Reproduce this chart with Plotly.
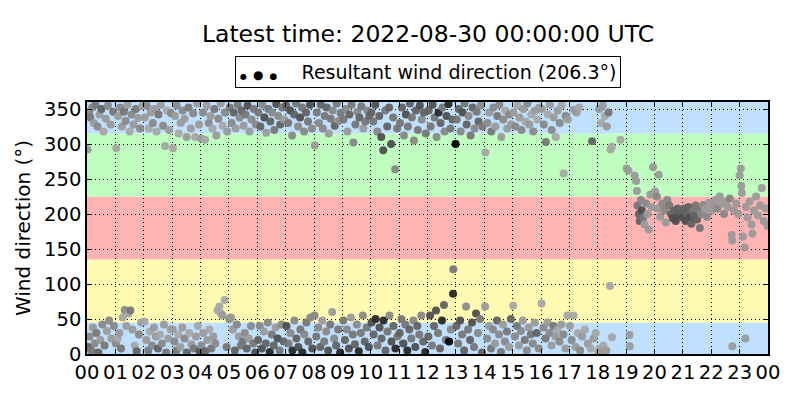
import plotly.graph_objects as go

# hora del dia (h decimal), direccion del viento (grados) y tono de gris (1 claro .. 9 oscuro)
hour = [
    0.02, 0.07, 0.12, 0.18, 0.24, 0.30, 0.37, 0.44, 0.51, 0.58, 0.66, 0.74, 0.83, 0.92, 0.04, 0.09, 0.15, 0.21, 0.27, 0.33, 0.40, 0.47, 0.54, 0.62, 0.70, 0.78, 0.86, 0.95,
    1.03, 1.10, 1.17, 1.23, 1.30, 1.36, 1.43, 1.50, 1.57, 1.64, 1.72, 1.80, 1.87, 1.94, 1.02, 1.08, 1.14, 1.20, 1.26, 1.33, 1.39, 1.46, 1.53, 1.60, 1.68, 1.75, 1.83, 1.91,
    2.04, 2.11, 2.18, 2.25, 2.32, 2.38, 2.45, 2.52, 2.60, 2.68, 2.75, 2.82, 2.89, 2.96, 2.03, 2.09, 2.16, 2.22, 2.29, 2.36, 2.43, 2.50, 2.57, 2.64, 2.71, 2.79, 2.86, 2.94,
    3.03, 3.10, 3.16, 3.23, 3.30, 3.37, 3.44, 3.51, 3.58, 3.66, 3.74, 3.81, 3.88, 3.95, 3.02, 3.08, 3.15, 3.22, 3.29, 3.36, 3.44, 3.52, 3.60, 3.68, 3.76, 3.84, 3.91, 3.97,
    4.02, 4.09, 4.16, 4.22, 4.29, 4.35, 4.42, 4.49, 4.56, 4.63, 4.71, 4.78, 4.86, 4.94, 4.03, 4.10, 4.17, 4.24, 4.31, 4.38, 4.45, 4.52, 4.60, 4.67, 4.72, 4.78, 4.85, 4.92,
    5.03, 5.10, 5.17, 5.24, 5.31, 5.38, 5.45, 5.52, 5.59, 5.66, 5.73, 5.80, 5.88, 5.95, 5.02, 5.08, 5.14, 5.21, 5.28, 5.35, 5.42, 5.49, 5.56, 5.63, 5.70, 5.78, 5.86, 5.93,
    6.04, 6.11, 6.18, 6.25, 6.32, 6.39, 6.46, 6.53, 6.60, 6.67, 6.74, 6.81, 6.88, 6.95, 6.03, 6.09, 6.16, 6.23, 6.30, 6.37, 6.44, 6.51, 6.58, 6.65, 6.72, 6.79, 6.86, 6.93,
    7.02, 7.09, 7.16, 7.23, 7.30, 7.37, 7.44, 7.51, 7.58, 7.65, 7.72, 7.79, 7.86, 7.93, 7.03, 7.10, 7.17, 7.24, 7.31, 7.38, 7.45, 7.52, 7.59, 7.66, 7.73, 7.80, 7.87, 7.94,
    8.03, 8.10, 8.17, 8.24, 8.31, 8.38, 8.45, 8.52, 8.59, 8.66, 8.73, 8.80, 8.87, 8.94, 8.02, 8.08, 8.15, 8.22, 8.29, 8.36, 8.43, 8.50, 8.57, 8.64, 8.71, 8.78, 8.85, 8.92,
    9.04, 9.11, 9.18, 9.25, 9.32, 9.39, 9.46, 9.53, 9.60, 9.67, 9.74, 9.81, 9.88, 9.95, 9.03, 9.09, 9.16, 9.23, 9.30, 9.37, 9.44, 9.51, 9.58, 9.65, 9.72, 9.79, 9.86, 9.93,
    10.02, 10.09, 10.16, 10.23, 10.30, 10.37, 10.44, 10.51, 10.58, 10.65, 10.72, 10.79, 10.86, 10.93, 10.03, 10.10, 10.17, 10.24, 10.31, 10.38, 10.45, 10.52, 10.59, 10.66, 10.73, 10.80, 10.87, 10.94,
    11.03, 11.10, 11.17, 11.24, 11.31, 11.38, 11.45, 11.52, 11.59, 11.66, 11.73, 11.80, 11.87, 11.94, 11.02, 11.08, 11.15, 11.22, 11.29, 11.36, 11.43, 11.50, 11.57, 11.64, 11.71, 11.78, 11.85, 11.92,
    12.04, 12.11, 12.18, 12.25, 12.32, 12.39, 12.46, 12.53, 12.60, 12.67, 12.74, 12.81, 12.88, 12.99, 12.03, 12.09, 12.16, 12.23, 12.30, 12.37, 12.44, 12.51, 12.58, 12.65, 12.76, 12.82, 12.90, 12.91,
    13.03, 13.10, 13.17, 13.24, 13.31, 13.38, 13.45, 13.52, 13.59, 13.66, 13.73, 13.80, 13.87, 13.94, 13.02, 13.08, 13.15, 13.22, 13.29, 13.36, 13.43, 13.50, 13.57, 13.64, 13.71, 13.78, 13.85, 13.92,
    14.04, 14.11, 14.18, 14.25, 14.32, 14.39, 14.46, 14.53, 14.60, 14.67, 14.74, 14.81, 14.88, 14.95, 14.03, 14.10, 14.17, 14.24, 14.31, 14.38, 14.45, 14.52, 14.59, 14.66, 14.73, 14.80, 14.87, 14.94,
    15.03, 15.10, 15.17, 15.24, 15.31, 15.38, 15.45, 15.52, 15.59, 15.66, 15.73, 15.80, 15.87, 15.94, 15.02, 15.08, 15.15, 15.22, 15.29, 15.36, 15.43, 15.50, 15.57, 15.64, 15.71, 15.78, 15.85, 15.92,
    16.03, 16.10, 16.17, 16.24, 16.31, 16.38, 16.45, 16.52, 16.59, 16.66, 16.73, 16.80, 16.87, 16.94, 16.02, 16.09, 16.16, 16.23, 16.30, 16.37, 16.44, 16.51, 16.58, 16.65, 16.72, 16.79, 16.86, 16.93,
    17.15, 17.25, 17.35, 17.80, 17.02, 17.08, 17.15, 17.22, 17.30, 17.38, 17.45, 17.55, 17.65, 17.75, 17.85, 17.93,
    18.05, 18.12, 18.18, 18.25, 18.32, 18.38, 18.45, 18.50, 18.80, 18.02, 18.06, 18.12, 18.20, 18.30, 18.43, 18.50,
    19.02, 19.08, 19.12, 19.13, 19.30, 19.35, 19.38, 19.40, 19.45, 19.48, 19.52, 19.55, 19.60, 19.65, 19.70, 19.75, 19.80, 19.85, 19.90, 19.95,
    20.02, 20.08, 20.15, 20.12, 20.20, 20.28, 20.35, 20.40, 20.45, 20.52, 20.58, 20.65, 20.70, 20.75, 20.82, 20.88, 20.95,
    21.00, 21.05, 21.10, 21.15, 21.20, 21.25, 21.30, 21.35, 21.40, 21.45, 21.50, 21.55, 21.60, 21.65, 21.72, 21.78, 21.85, 21.92,
    22.00, 22.08, 22.15, 22.22, 22.30, 22.38, 22.45, 22.52, 22.58, 22.65, 22.72, 22.74, 22.80, 22.88, 22.95, 22.74,
    23.00, 23.04, 23.06, 23.08, 23.20, 23.12, 23.18, 23.22, 23.28, 23.35, 23.42, 23.50, 23.58, 23.65, 23.72, 23.78, 23.85, 23.92, 23.98, 23.45,
]
direction = [
    292, 345, 338, 352, 330, 356, 325, 342, 350, 318, 336, 355, 328, 346, 10, 25, 5, 38, 15, 30, 2, 20, 42, 12, 33, 48, 22, 40,
    294, 340, 352, 325, 346, 333, 356, 318, 342, 328, 350, 337, 322, 354, 15, 22, 30, 8, 52, 63, 40, 58, 62, 35, 12, 4, 28, 45,
    338, 355, 322, 345, 330, 350, 318, 342, 356, 326, 297, 348, 320, 344, 46, 20, 5, 32, 12, 38, 25, 8, 28, 15, 42, 2, 22, 35,
    294, 340, 355, 315, 330, 348, 336, 310, 352, 322, 344, 310, 358, 328, 35, 18, 5, 28, 10, 38, 22, 2, 30, 14, 8, 25, 40, 4,
    308, 345, 306, 355, 330, 340, 322, 350, 312, 336, 358, 326, 345, 318, 12, 30, 4, 20, 35, 8, 25, 15, 62, 68, 58, 55, 77, 10,
    352, 330, 345, 322, 356, 338, 348, 326, 342, 355, 318, 335, 350, 328, 50, 52, 35, 5, 42, 25, 12, 18, 30, 8, 22, 40, 15, 2,
    345, 325, 356, 338, 316, 350, 332, 345, 320, 357, 340, 328, 352, 335, 20, 40, 8, 32, 15, 45, 3, 28, 12, 38, 22, 5, 42, 18,
    355, 330, 348, 312, 342, 358, 325, 338, 352, 318, 345, 332, 356, 322, 40, 15, 30, 5, 48, 22, 10, 35, 2, 28, 45, 18, 52, 8,
    298, 345, 330, 356, 322, 340, 352, 315, 336, 348, 326, 358, 333, 344, 55, 25, 38, 10, 48, 18, 32, 5, 42, 60, 22, 12, 35, 2,
    335, 350, 318, 342, 356, 302, 328, 346, 338, 354, 322, 332, 348, 340, 48, 20, 35, 8, 52, 28, 14, 42, 4, 30, 55, 18, 38, 10,
    345, 332, 356, 318, 340, 310, 291, 348, 325, 352, 300, 338, 264, 322, 45, 28, 50, 12, 38, 22, 48, 5, 32, 55, 18, 40, 8, 25,
    330, 352, 312, 342, 325, 358, 338, 305, 348, 320, 355, 335, 345, 315, 30, 50, 15, 42, 5, 35, 22, 48, 10, 40, 28, 55, 18, 3,
    348, 325, 356, 338, 310, 345, 330, 352, 318, 340, 357, 322, 335, 300, 25, 55, 12, 40, 62, 30, 8, 48, 70, 20, 18, 35, 86, 121,
    335, 350, 318, 345, 358, 328, 340, 312, 352, 322, 346, 332, 355, 325, 40, 15, 48, 28, 5, 68, 35, 20, 45, 10, 58, 30, 50, 2,
    288, 330, 345, 318, 352, 325, 340, 356, 310, 335, 348, 322, 342, 328, 68, 22, 40, 8, 35, 15, 48, 28, 3, 42, 18, 32, 10, 50,
    345, 325, 355, 338, 320, 350, 332, 358, 328, 342, 318, 348, 335, 352, 69, 25, 40, 12, 33, 48, 20, 5, 38, 28, 15, 45, 30, 8,
    350, 328, 303, 342, 356, 320, 338, 310, 348, 330, 355, 258, 340, 335, 72, 38, 22, 45, 30, 12, 40, 25, 35, 18, 42, 28, 8, 55,
    349, 345, 352, 304, 40, 20, 55, 10, 30, 5, 25, 35, 15, 8, 22, 30,
    350, 330, 355, 340, 325, 345, 292, 296, 306, 3, 8, 3, 12, 5, 97, 24,
    265, 262, 27, 11, 255, 247, 233, 212, 200, 190, 220, 205, 195, 185, 215, 200, 178, 228, 210, 267,
    232, 225, 256, 208, 196, 215, 205, 188, 220, 212, 200, 194, 205, 190, 208, 198, 202,
    195, 208, 190, 200, 210, 195, 186, 204, 198, 212, 192, 205, 180, 200, 213, 207, 196, 216,
    205, 212, 220, 208, 225, 215, 200, 218, 210, 222, 170, 162, 205, 215, 200, 11,
    255, 265, 240, 230, 22, 168, 152, 210, 195, 218, 185, 205, 225, 198, 212, 237, 190, 208, 183, 172,
]
shade = [
    3, 4, 5, 4, 3, 5, 4, 3, 6, 2, 3, 4, 3, 5, 6, 4, 5, 3, 4, 5, 6, 3, 4, 5, 3, 4, 3, 4,
    2, 3, 4, 3, 5, 4, 3, 2, 4, 3, 5, 3, 4, 3, 4, 2, 3, 5, 2, 4, 3, 2, 5, 3, 2, 6, 4, 3,
    3, 4, 2, 3, 4, 3, 2, 5, 3, 4, 2, 2, 3, 4, 2, 3, 5, 2, 4, 3, 3, 6, 2, 4, 3, 5, 3, 2,
    2, 3, 4, 2, 3, 4, 3, 3, 5, 3, 4, 2, 3, 3, 3, 4, 5, 2, 3, 3, 4, 6, 2, 3, 5, 3, 2, 7,
    3, 4, 2, 3, 4, 3, 2, 5, 3, 4, 3, 2, 4, 3, 4, 3, 6, 3, 2, 5, 3, 4, 2, 2, 2, 3, 2, 5,
    5, 4, 6, 3, 5, 4, 6, 3, 5, 7, 3, 4, 5, 4, 4, 3, 3, 6, 4, 3, 5, 5, 4, 6, 3, 4, 5, 7,
    5, 6, 4, 7, 3, 5, 6, 4, 5, 7, 4, 6, 5, 3, 6, 4, 7, 3, 6, 4, 8, 5, 6, 3, 7, 5, 4, 6,
    6, 5, 7, 4, 6, 5, 4, 7, 5, 4, 6, 5, 7, 4, 7, 5, 4, 8, 4, 6, 7, 5, 8, 4, 5, 6, 4, 7,
    3, 5, 4, 6, 4, 5, 6, 3, 5, 4, 6, 5, 4, 5, 4, 5, 4, 6, 3, 5, 4, 7, 5, 3, 4, 6, 5, 8,
    5, 4, 3, 6, 5, 4, 5, 4, 6, 5, 3, 5, 4, 6, 5, 6, 4, 7, 3, 5, 6, 4, 8, 5, 4, 6, 5, 7,
    6, 5, 7, 4, 6, 7, 7, 5, 6, 6, 7, 5, 4, 5, 7, 6, 8, 5, 7, 6, 8, 6, 5, 4, 7, 6, 8, 5,
    5, 6, 4, 7, 5, 6, 5, 4, 6, 5, 7, 4, 6, 5, 6, 5, 7, 5, 8, 6, 5, 4, 7, 6, 5, 4, 6, 8,
    6, 5, 7, 5, 4, 8, 6, 5, 4, 7, 8, 5, 6, 9, 6, 7, 5, 6, 7, 5, 6, 8, 6, 5, 9, 4, 8, 5,
    5, 6, 4, 7, 5, 6, 4, 5, 6, 4, 5, 6, 4, 5, 6, 5, 7, 5, 6, 4, 5, 6, 7, 5, 7, 4, 5, 6,
    2, 4, 3, 5, 4, 3, 5, 4, 3, 4, 2, 3, 4, 3, 3, 4, 3, 5, 4, 3, 6, 4, 5, 3, 4, 5, 3, 6,
    3, 4, 2, 3, 4, 3, 2, 4, 3, 2, 4, 3, 2, 3, 2, 4, 5, 3, 4, 3, 5, 4, 3, 5, 4, 3, 6, 4,
    3, 4, 5, 2, 3, 4, 3, 2, 3, 4, 2, 2, 4, 3, 2, 4, 5, 3, 4, 3, 5, 3, 2, 4, 3, 4, 3, 2,
    3, 3, 2, 6, 3, 4, 2, 3, 2, 4, 3, 2, 3, 2, 3, 2,
    3, 2, 3, 2, 3, 5, 2, 2, 2, 3, 2, 3, 2, 3, 2, 2,
    3, 3, 3, 3, 3, 3, 3, 5, 6, 6, 4, 7, 5, 3, 4, 3, 3, 3, 3, 3,
    3, 4, 3, 3, 3, 4, 4, 3, 4, 5, 6, 7, 6, 7, 6, 7, 6,
    7, 6, 7, 6, 6, 7, 6, 5, 6, 5, 6, 5, 5, 4, 4, 3, 4, 3,
    3, 3, 3, 4, 3, 3, 4, 3, 3, 4, 3, 3, 3, 3, 3, 3,
    3, 3, 3, 3, 3, 3, 3, 3, 3, 3, 3, 3, 3, 3, 3, 3, 3, 3, 3, 3,
]

# sectores de direccion (grados) y sus colores
sector_edges = [0, 45, 135, 225, 315, 360]
sector_colors = ['#bfe0ff', '#fffbb3', '#ffb3b3', '#bfffbf', '#bfe0ff']

hour_ticks = list(range(25))
hour_labels = ['%02d' % (h % 24) for h in hour_ticks]
resultant = 206.3

fig = go.Figure()
fig.add_trace(go.Scatter(
    x=hour, y=direction, mode='markers', showlegend=False,
    marker=dict(size=8, color=shade, cmin=1, cmax=9, opacity=0.95,
                colorscale=[[0, '#b4b4b4'], [0.25, '#9a9a9a'], [0.5, '#767676'],
                            [0.75, '#4e4e4e'], [1, '#000000']],
                line_width=0),
))

for lo, hi, col in zip(sector_edges[:-1], sector_edges[1:], sector_colors):
    fig.add_shape(type='rect', xref='paper', yref='y', x0=0, x1=1, y0=lo, y1=hi,
                  fillcolor=col, line_width=0, layer='below')

# caja de leyenda estilo matplotlib
fig.add_annotation(
    xref='paper', yref='paper', x=0.5, y=1.119, xanchor='center', yanchor='middle',
    text="<span style='font-size:8px'>●</span> <span style='font-size:12px'>●</span> "
         "<span style='font-size:9px'>●</span>    Resultant wind direction (%.1f°)" % resultant,
    showarrow=False, font=dict(size=19, color='black'),
    bordercolor='black', borderwidth=1, borderpad=4, bgcolor='white',
)

# la pagina deja 8 px de margen en el body: se compensa en los margenes
fig.update_layout(
    width=800, height=400,
    margin=dict(l=79, r=40, t=94, b=54),
    paper_bgcolor='white', plot_bgcolor='white',
    font=dict(family='DejaVu Sans', size=19.5, color='black'),
    title=dict(text='Latest time: 2022-08-30 00:00:00 UTC', x=0.525, xanchor='center',
               y=0.935, yanchor='middle', font=dict(size=23.5)),
    xaxis=dict(range=[0, 24], tickvals=hour_ticks, ticktext=hour_labels,
               showgrid=True, gridcolor='black', griddash='1px,3px', gridwidth=1,
               showline=True, linecolor='black', linewidth=1.5, mirror='ticks',
               ticks='inside', ticklen=5, tickcolor='black', zeroline=False),
    yaxis=dict(range=[0, 360], tickvals=list(range(0, 351, 50)),
               title=dict(text='Wind direction (°)', font=dict(size=20), standoff=8),
               showgrid=True, gridcolor='black', griddash='1px,3px', gridwidth=1,
               showline=True, linecolor='black', linewidth=1.5, mirror='ticks',
               ticks='inside', ticklen=5, tickcolor='black', zeroline=False),
)

fig.write_html('out.html')
